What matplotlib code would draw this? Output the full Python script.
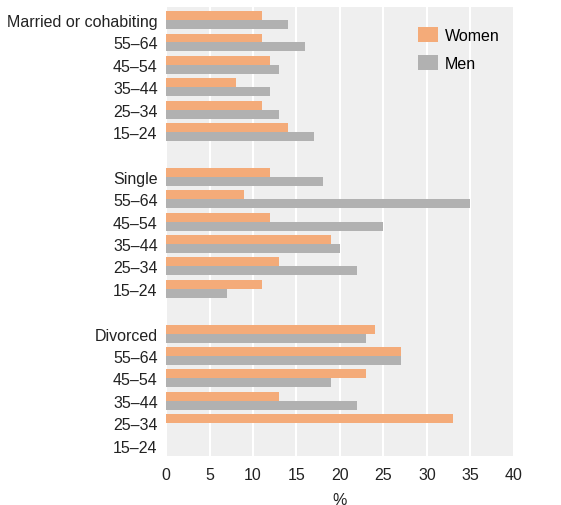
import numpy as np
import matplotlib.pyplot as plt

plt.rcParams['font.family'] = ['Liberation Sans', 'DejaVu Sans']

labels = ['Married or cohabiting', '55–64', '45–54', '35–44', '25–34', '15–24', '',
          'Single', '55–64', '45–54', '35–44', '25–34', '15–24', '',
          'Divorced', '55–64', '45–54', '35–44', '25–34', '15–24']
women = [11, 11, 12, 8, 11, 14, np.nan,
         12, 9, 12, 19, 13, 11, np.nan,
         24, 27, 23, 13, 33, 0]
men = [14, 16, 13, 12, 13, 17, np.nan,
       18, 35, 25, 20, 22, 7, np.nan,
       23, 27, 19, 22, 0, 0]

women_color = '#f4ab79'
men_color = '#b1b1b1'

fig = plt.figure(figsize=(5.61, 5.06), dpi=100)
ax = fig.add_axes([0.296, 0.0974, 0.62, 0.8866])
ax.set_facecolor('#efefef')

y = np.arange(len(labels))
h = 0.4
ax.barh(y - h / 2, women, height=h, color=women_color, label='Women', zorder=3)
ax.barh(y + h / 2, men, height=h, color=men_color, label='Men', zorder=3)

ax.set_xlim(0, 40)
ax.set_ylim(19.45, -0.58)
ax.set_xticks(np.arange(0, 41, 5))
ax.set_yticks(y)
ax.set_yticklabels(labels)
ax.tick_params(axis='both', length=0, labelsize=11.5, colors='#222222')
ax.tick_params(axis='y', pad=6)
ax.tick_params(axis='x', pad=8)
ax.grid(axis='x', color='white', linewidth=1.5, zorder=1)
ax.set_axisbelow(True)
for s in ax.spines.values():
    s.set_visible(False)
ax.set_xlabel('%', fontsize=11.5, color='#222222', labelpad=7)

ax.legend(loc='upper right', frameon=False, fontsize=11.5, handlelength=1.25,
          handleheight=1.1, handletextpad=0.45, labelspacing=0.75,
          bbox_to_anchor=(1.0, 0.988), borderaxespad=0.5)

fig.savefig('out.png', dpi=100)
